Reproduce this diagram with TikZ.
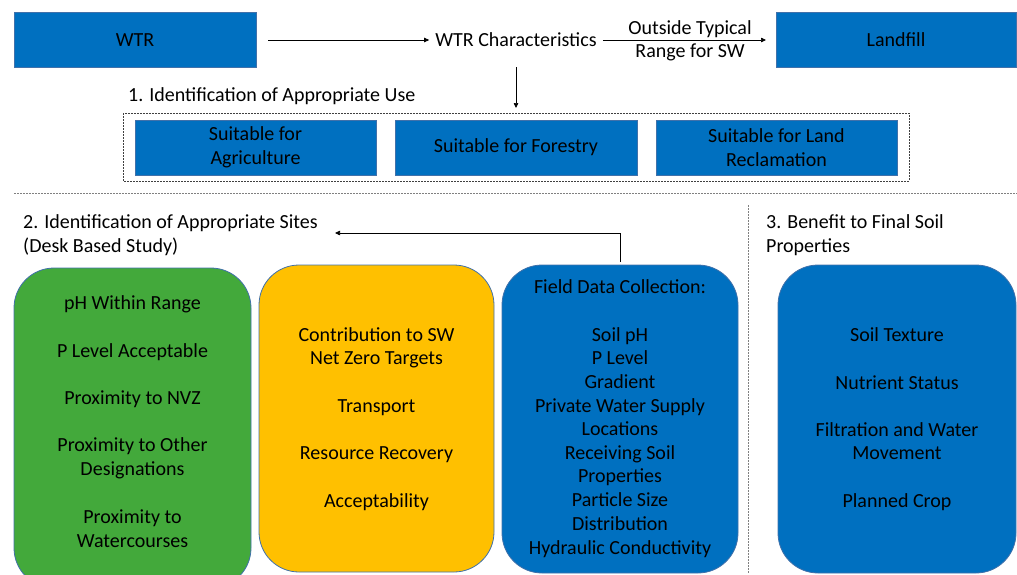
\documentclass[tikz,border=0pt]{standalone}
\usepackage{fontspec}
\setmainfont{Carlito}
\usetikzlibrary{arrows.meta}
\definecolor{boxblue}{RGB}{0,112,192}
\definecolor{boxedge}{RGB}{65,113,170}
\definecolor{boxgreen}{RGB}{67,169,59}
\definecolor{boxyellow}{RGB}{255,192,0}
\tikzset{
  flatbox/.style={fill=boxblue, draw=boxedge, line width=0.6pt},
  roundbox/.style={draw=boxedge, line width=0.8pt, rounded corners=40pt},
  txt/.style={font=\fontsize{20}{23.6}\selectfont, align=center, inner sep=0pt},
  line/.style={txt, anchor=base, yshift=-6.3pt},
  ltxt/.style={font=\fontsize{20}{23.6}\selectfont, align=left, inner sep=0pt, anchor=west},
  conn/.style={line width=0.7pt, -{Triangle[length=5pt,width=4.5pt]}},
  sep/.style={gray, line width=0.6pt, dash pattern=on 1.5pt off 1.5pt},
}
\begin{document}
\begin{tikzpicture}[x=1pt,y=-1pt]
\useasboundingbox (0,0) rectangle (1017,574);

% top row
\draw[flatbox] (14,12) rectangle (256,67);
\node[line] (wtr) at (135,40) {WTR};
\coordinate (wtrR) at (268,40);
\node[line] (char) at (516,40) {WTR Characteristics};
\draw[flatbox] (776,12) rectangle (1016,67);
\node[line] (landfill) at (896,40) {Landfill};
\coordinate (landL) at (766,40);
\draw[conn] (wtrR) -- ([xshift=-6pt]char.west |- wtrR);
\draw[conn] ([xshift=6pt]char.east |- wtrR) -- (landL);
\node[line] (out1) at (690,28) {Outside Typical};
\node[line] (out2) at (690,51) {Range for SW};

% stage 1
\node[line, anchor=base west] (s1) at (128,95) {1. Identification of Appropriate Use};
\draw[darkgray, line width=0.6pt, dash pattern=on 2pt off 1pt] (123,113) rectangle (909,181);
\coordinate (charbot) at (516,67);
\coordinate (usebox) at (516,108);
\draw[conn] (charbot) -- (usebox);
\draw[flatbox] (135,120) rectangle (376,175);
\node[txt] (agri) at (255.5,147.5) {Suitable for\\Agriculture};
\draw[flatbox] (395,120) rectangle (637,175);
\node[line] (forest) at (516,146) {Suitable for Forestry};
\draw[flatbox] (656,120) rectangle (897,175);
\node[txt] (land) at (776.5,147.5) {Suitable for Land\\Reclamation};

% separators
\draw[sep] (14,193) -- (1017,193);
\draw[sep] (748,205) -- (748,574);

% stage 2 and 3 headings
\node[ltxt] (s2) at (23,235) {2. Identification of Appropriate Sites\\(Desk Based Study)};
\node[ltxt] (s3) at (766,235) {3. Benefit to Final Soil\\Properties};

% stage 2 boxes
\draw[roundbox, fill=boxgreen] (14,268) rectangle (251,588);
\foreach \t/\y in {pH Within Range/303, P Level Acceptable/351, Proximity to NVZ/398,
  Proximity to Other/445, Designations/469, Proximity to/517, Watercourses/541}
  \node[line] at (132.5,\y) {\t};

\draw[roundbox, fill=boxyellow] (259,265) rectangle (494,572);
\foreach \t/\y in {Contribution to SW/335, Net Zero Targets/358, Transport/406,
  Resource Recovery/453, Acceptability/501}
  \node[line] at (376.5,\y) {\t};

\draw[roundbox, fill=boxblue] (502,265) rectangle (738,573);
\coordinate (fieldtop) at (620,262);
\foreach \t/\y in {Field Data Collection:/287, Soil pH/335, P Level/358, Gradient/382,
  Private Water Supply/406, Locations/429, Receiving Soil/453, Properties/476,
  Particle Size/500, Distribution/524, Hydraulic Conductivity/548}
  \node[line] at (620,\y) {\t};

\coordinate (s2end) at (335,233);
\draw[conn] (fieldtop) |- (s2end);

% stage 3 box
\draw[roundbox, fill=boxblue] (778,265) rectangle (1016,573);
\foreach \t/\y in {Soil Texture/335, Nutrient Status/383, Filtration and Water/430,
  Movement/453, Planned Crop/501}
  \node[line] at (897,\y) {\t};
\end{tikzpicture}
\end{document}
